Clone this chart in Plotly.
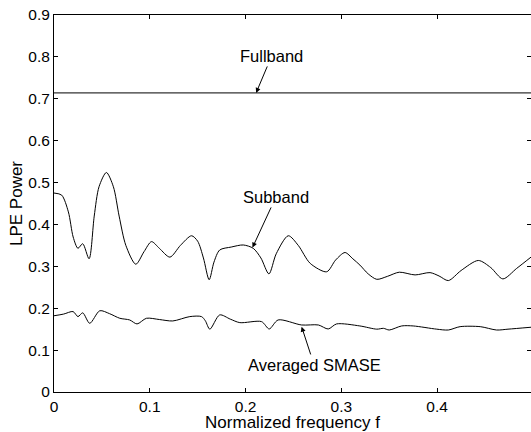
import plotly.graph_objects as go

# ---- data ----
full_x = [0.0, 0.5]
full_y = [0.714, 0.714]

sub_x = [0.0, 0.008, 0.015, 0.020, 0.025, 0.030, 0.0366, 0.042, 0.047, 0.0547, 0.062, 0.068,
         0.075, 0.0854, 0.094, 0.1018, 0.110, 0.121, 0.132, 0.1436, 0.150, 0.156, 0.162, 0.167,
         0.173, 0.185, 0.1976, 0.208, 0.216, 0.2244, 0.232, 0.2446, 0.255, 0.2675, 0.2847, 0.294,
         0.3038, 0.312, 0.3194, 0.328, 0.337, 0.348, 0.3605, 0.377, 0.3926, 0.402, 0.4117, 0.425,
         0.443, 0.456, 0.4686, 0.483, 0.498]
sub_y = [0.475, 0.470, 0.430, 0.370, 0.343, 0.354, 0.318, 0.420, 0.490, 0.524, 0.490, 0.420,
         0.350, 0.305, 0.335, 0.359, 0.343, 0.322, 0.350, 0.373, 0.360, 0.320, 0.268, 0.310,
         0.339, 0.346, 0.351, 0.343, 0.320, 0.282, 0.330, 0.373, 0.350, 0.307, 0.287, 0.315,
         0.333, 0.318, 0.303, 0.282, 0.269, 0.276, 0.286, 0.2795, 0.285, 0.277, 0.266, 0.290,
         0.314, 0.297, 0.270, 0.295, 0.322]

avg_x = [0.0, 0.010, 0.0199, 0.025, 0.030, 0.0373, 0.0478, 0.058, 0.0687, 0.079, 0.0867, 0.0965,
         0.110, 0.124, 0.1418, 0.154, 0.158, 0.1627, 0.173, 0.184, 0.194, 0.2167, 0.2247, 0.234,
         0.2585, 0.276, 0.2863, 0.295, 0.3193, 0.337, 0.344, 0.350, 0.363, 0.375, 0.3996, 0.4117,
         0.424, 0.445, 0.462, 0.474, 0.498]
avg_y = [0.182, 0.186, 0.192, 0.180, 0.189, 0.164, 0.194, 0.187, 0.176, 0.172, 0.1625, 0.176,
         0.173, 0.1696, 0.180, 0.180, 0.170, 0.150, 0.184, 0.174, 0.1656, 0.168, 0.1505, 0.172,
         0.160, 0.160, 0.1505, 0.1625, 0.1577, 0.150, 0.152, 0.148, 0.1577, 0.1577, 0.150, 0.148,
         0.156, 0.156, 0.148, 0.150, 0.1546]

x_ticks = [0, 0.1, 0.2, 0.3, 0.4]
x_tick_labels = ["0", "0.1", "0.2", "0.3", "0.4"]
y_ticks = [0, 0.1, 0.2, 0.3, 0.4, 0.5, 0.6, 0.7, 0.8, 0.9]
y_tick_labels = ["0", "0.1", "0.2", "0.3", "0.4", "0.5", "0.6", "0.7", "0.8", "0.9"]

FONT = "Liberation Sans, Arial, Helvetica, sans-serif"
PLOT_H = 432 - 15 - 40

fig = go.Figure()
line = dict(color="black", width=1)
fig.add_trace(go.Scatter(x=full_x, y=full_y, mode="lines", line=line, showlegend=False))
fig.add_trace(go.Scatter(x=sub_x, y=sub_y, mode="lines",
                         line=dict(color="black", width=1, shape="spline", smoothing=0.8),
                         showlegend=False))
fig.add_trace(go.Scatter(x=avg_x, y=avg_y, mode="lines",
                         line=dict(color="black", width=1, shape="spline", smoothing=0.8),
                         showlegend=False))

ann_font = dict(family=FONT, size=16.5, color="black")
arrow = dict(showarrow=True, arrowhead=2, arrowsize=1, arrowwidth=1, arrowcolor="black",
             font=ann_font, xref="x", yref="y")
fig.add_annotation(x=0.211, y=0.714, ax=15.6, ay=-37, text="Fullband", **arrow)
fig.add_annotation(x=0.2072, y=0.3447, ax=23.5, ay=-50.7, text="Subband", **arrow)
fig.add_annotation(x=0.2585, y=0.156, ax=12.5, ay=38.3, text="Averaged SMASE", **arrow)

# top frame line of the axes box (offset half a pixel for a crisp line)
top = 1 + 0.5 / PLOT_H
fig.add_shape(type="line", xref="paper", yref="paper", x0=0, x1=1, y0=top, y1=top,
              line=dict(color="black", width=1), layer="above")

axis_common = dict(showgrid=False, zeroline=False, showline=True, linecolor="black",
                   linewidth=1, ticks="inside", ticklen=4, tickcolor="black", tickwidth=1,
                   mirror="ticks", tickfont=dict(family=FONT, size=15.5, color="black"))
fig.update_xaxes(range=[0, 0.498], tickvals=x_ticks, ticktext=x_tick_labels,
                 title=dict(text="Normalized frequency f", standoff=7,
                            font=dict(family=FONT, size=17, color="black")),
                 **axis_common)
fig.update_yaxes(range=[0, 0.9], tickvals=y_ticks, ticktext=y_tick_labels,
                 title=dict(text="LPE Power", standoff=1,
                            font=dict(family=FONT, size=17, color="black")),
                 **axis_common)
fig.update_layout(width=531, height=432, margin=dict(l=54, r=0, t=15, b=40, autoexpand=False),
                  paper_bgcolor="white", plot_bgcolor="white")
fig.write_html("out.html", config={"displayModeBar": False},
               post_script="document.body.style.margin='0';document.body.style.overflow='hidden';")
